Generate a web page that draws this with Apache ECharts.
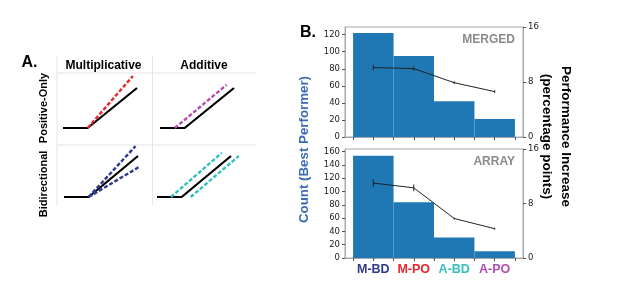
<!DOCTYPE html>
<html>
<head>
<meta charset="utf-8">
<script src="https://cdn.jsdelivr.net/npm/echarts@6/dist/echarts.min.js"></script>
<style>
  html, body { margin: 0; padding: 0; background: #fff; }
  #chart { width: 617px; height: 297px; }
</style>
</head>
<body>
<div id="chart"></div>
<script>
// panel B data
const categories = ['M-BD', 'M-PO', 'A-BD', 'A-PO']
const categoryColors = ['#2e3a8c', '#e8262b', '#35c0c0', '#b04fb0']
const categoryPos = [0, 1, 2, 3]
const mergedCounts = [122, 95, 42, 21]
const mergedGain = [10.1, 9.95, 7.9, 6.6]
const mergedErr = [0.4, 0.3, 0.2, 0.2]
const arrayCounts = [154, 84, 31, 10]
const arrayGain = [11.0, 10.3, 5.8, 4.3]
const arrayErr = [0.6, 0.5, 0.15, 0.15]
const countTicksMerged = [0, 20, 40, 60, 80, 100, 120]
const countTicksArray = [0, 20, 40, 60, 80, 100, 120, 140, 160]
const gainTicks = [0, 8, 16]
const binTicks = [-0.5, 0, 0.5, 1, 1.5, 2, 2.5, 3, 3.5]

// panel A schematics: [input, output]
const hingeBase = [[-3, 0], [0, 0], [6, 5]]
const multPos = [[0, 0], [5.5, 6.5]]
const addPos = [[-1.2, 0], [5.1, 5.4]]
const multBiUp = [[0, 0], [5.7, 6.2]]
const multBiDown = [[0, 0], [6.2, 3.7]]
const addBiUp = [[-1.3, 0], [4.9, 5.4]]
const addBiDown = [[1.1, 0], [6.95, 5.0]]

const FONT = 'Liberation Sans, Arial, sans-serif'
const TICK_FONT = 'DejaVu Sans, sans-serif'
const BAR_BLUE = '#1f77b4'
const FRAME = '#a8a8a8'

const chart = echarts.init(document.getElementById('chart'))

const renderBar = (params, api) => {
  const x = api.value(0)
  const v = api.value(1)
  const p0 = api.coord([x - 0.5, v])
  const p1 = api.coord([x + 0.5, 0])
  return {
    type: 'rect',
    shape: { x: p0[0], y: p0[1], width: p1[0] - p0[0], height: p1[1] - p0[1] },
    style: { fill: BAR_BLUE },
  }
}

const renderErr = (params, api) => {
  const x = api.value(0)
  const m = api.value(1)
  const e = api.value(2)
  const lo = api.coord([x, m - e])
  const hi = api.coord([x, m + e])
  return {
    type: 'line',
    shape: { x1: lo[0], y1: lo[1], x2: hi[0], y2: hi[1] },
    style: { stroke: '#222', lineWidth: 1 },
  }
}

const countAxis = (gridIndex, max, ticks) => ({
  type: 'value', gridIndex, min: 0, max, position: 'left',
  splitLine: { show: false },
  axisLine: { show: true, onZero: false, lineStyle: { color: FRAME } },
  axisTick: { show: true, length: 3, customValues: ticks, lineStyle: { color: '#555' } },
  axisLabel: { customValues: ticks, color: '#222', fontSize: 8.5, fontFamily: TICK_FONT, margin: 5 },
})

const gainAxis = (gridIndex) => ({
  type: 'value', gridIndex, min: 0, max: 16, position: 'right',
  splitLine: { show: false },
  axisLine: { show: true, onZero: false, lineStyle: { color: FRAME } },
  axisTick: { show: true, length: 3, customValues: gainTicks, lineStyle: { color: '#555' } },
  axisLabel: { customValues: gainTicks, color: '#222', fontSize: 8.5, fontFamily: TICK_FONT, margin: 5 },
})

const binAxis = (gridIndex, showLabels) => ({
  type: 'value', gridIndex, min: -0.7, max: 3.7,
  splitLine: { show: false },
  axisLine: { show: true, onZero: false, lineStyle: { color: FRAME } },
  axisTick: { show: true, length: 3, customValues: binTicks, lineStyle: { color: '#555' } },
  axisLabel: {
    show: showLabels,
    customValues: categoryPos,
    margin: 5,
    formatter: v => `{c${v}|${categories[v]}}`,
    rich: Object.fromEntries(categories.map((c, i) => ['c' + i, {
      color: categoryColors[i], fontSize: 12.5, fontWeight: 'bold', fontFamily: FONT,
    }])),
  },
})

const miniGrids = [
  { left: 63, top: 72, width: 82.2, height: 56 },
  { left: 160, top: 72, width: 82.2, height: 56 },
  { left: 64, top: 139.6, width: 82.2, height: 57.4 },
  { left: 157, top: 139.6, width: 82.2, height: 57.4 },
]

const hiddenX = i => ({ type: 'value', gridIndex: i, min: -3, max: 7, show: false })
const hiddenY = i => ({ type: 'value', gridIndex: i, min: 0, max: 7, show: false })

const schematic = (idx, data, color, dashed) => ({
  type: 'line', xAxisIndex: idx, yAxisIndex: idx + 2, data,
  symbol: 'none', clip: false, silent: true, z: dashed ? 3 : 2,
  lineStyle: dashed
    ? { color, width: 2.4, type: [4, 2] }
    : { color: '#000', width: 2.2 },
})

const barSeries = (xi, yi, counts) => ({
  type: 'custom', xAxisIndex: xi, yAxisIndex: yi,
  data: counts.map((c, i) => [categoryPos[i], c]),
  renderItem: renderBar, silent: true, z: 1,
})

const gainLine = (xi, yi, gain) => ({
  type: 'line', xAxisIndex: xi, yAxisIndex: yi,
  data: gain.map((g, i) => [categoryPos[i], g]),
  symbol: 'none', silent: true, z: 3,
  lineStyle: { color: '#222', width: 1 },
})

const errSeries = (xi, yi, gain, err) => ({
  type: 'custom', xAxisIndex: xi, yAxisIndex: yi,
  data: gain.map((g, i) => [categoryPos[i], g, err[i]]),
  renderItem: renderErr, silent: true, z: 4,
})

const sepLine = (x1, y1, x2, y2) => ({
  type: 'line', shape: { x1, y1, x2, y2 }, style: { stroke: '#e4e4e4', lineWidth: 1 },
})

const label = (x, y, text, opts = {}) => ({
  type: 'text', x, y, rotation: opts.rotation || 0,
  style: {
    text, fill: opts.color || '#000', align: opts.align || 'center', verticalAlign: 'middle',
    font: `${opts.weight || 'bold'} ${opts.size || 12}px ${FONT}`, lineHeight: opts.lineHeight,
  },
})

const option = {
  backgroundColor: '#fff',
  animation: false,
  grid: [
    { left: 345, top: 27, width: 178, height: 110, show: true, borderColor: FRAME, borderWidth: 1 },
    { left: 345, top: 149, width: 178, height: 109, show: true, borderColor: FRAME, borderWidth: 1 },
    ...miniGrids,
  ],
  xAxis: [
    binAxis(0, false),
    binAxis(1, true),
    hiddenX(2), hiddenX(3), hiddenX(4), hiddenX(5),
  ],
  yAxis: [
    countAxis(0, 129, countTicksMerged),
    gainAxis(0),
    countAxis(1, 164, countTicksArray),
    gainAxis(1),
    hiddenY(2), hiddenY(3), hiddenY(4), hiddenY(5),
  ],
  series: [
    barSeries(0, 0, mergedCounts),
    gainLine(0, 1, mergedGain),
    errSeries(0, 1, mergedGain, mergedErr),
    barSeries(1, 2, arrayCounts),
    gainLine(1, 3, arrayGain),
    errSeries(1, 3, arrayGain, arrayErr),
    // panel A: x/y axis index 2..5 map to yAxis 4..7
    schematic(2, hingeBase, '#000', false),
    schematic(2, multPos, '#e8262b', true),
    schematic(3, hingeBase, '#000', false),
    schematic(3, addPos, '#b04fb0', true),
    schematic(4, hingeBase, '#000', false),
    schematic(4, multBiUp, '#2e3a8c', true),
    schematic(4, multBiDown, '#2e3a8c', true),
    schematic(5, hingeBase, '#000', false),
    schematic(5, addBiUp, '#35c0c0', true),
    schematic(5, addBiDown, '#35c0c0', true),
  ],
  graphic: [
    sepLine(57, 56, 57, 205),
    sepLine(152.5, 56, 152.5, 205),
    sepLine(57, 73, 256, 73),
    sepLine(57, 145, 256, 145),
    label(29.5, 63, 'A.', { size: 16 }),
    label(103.5, 65.5, 'Multiplicative', { size: 12 }),
    label(204, 65.5, 'Additive', { size: 12 }),
    label(44, 108, 'Positive-Only', { size: 11, rotation: Math.PI / 2 }),
    label(44, 184, 'Bidirectional', { size: 11, rotation: Math.PI / 2 }),
    label(308, 32.5, 'B.', { size: 16 }),
    label(515, 40, 'MERGED', { size: 12, color: '#8a8a8a', align: 'right' }),
    label(515, 161.5, 'ARRAY', { size: 12, color: '#8a8a8a', align: 'right' }),
    label(304, 149.5, 'Count (Best Performer)', { size: 13.3, color: '#3a6bb3', rotation: Math.PI / 2 }),
    label(556.5, 136.5, 'Performance Increase\n(percentage points)', { size: 13.5, rotation: -Math.PI / 2, lineHeight: 19 }),
  ],
}

chart.setOption(option)
</script>
</body>
</html>
